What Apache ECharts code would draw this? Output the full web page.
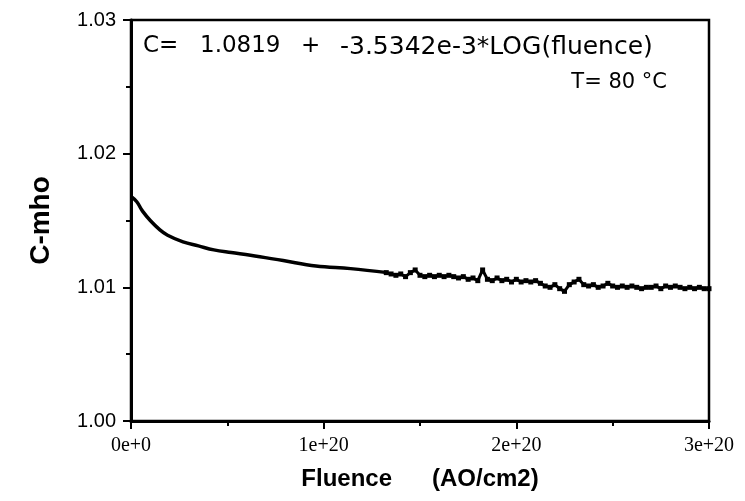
<!DOCTYPE html>
<html>
<head>
    <meta charset="utf-8">
    <title>C-mho vs Fluence</title>
    <script src="https://cdn.jsdelivr.net/npm/echarts@6/dist/echarts.min.js"></script>
</head>
<body style="margin:0;background:#fff;">
    <div id="main" style="width:745px;height:501px;"></div>
    <script>
        // fluence in units of 1e20 AO/cm2
        let fitX = [0.00, 0.03, 0.06, 0.10, 0.15, 0.19, 0.27, 0.35, 0.43, 0.52, 0.62, 0.79, 0.96, 1.14, 1.33];
        let fitY = [1.0168, 1.0164, 1.0157, 1.0150, 1.0143, 1.0139, 1.0134, 1.0131, 1.0128, 1.0126, 1.0124, 1.0120, 1.0116, 1.0114, 1.0111];

        // measured points (noisy tail)
        let dataX = [1.325, 1.350, 1.375, 1.400, 1.425, 1.450, 1.475, 1.500, 1.525, 1.550,
            1.575, 1.600, 1.625, 1.650, 1.675, 1.700, 1.725, 1.750, 1.775, 1.800,
            1.825, 1.850, 1.875, 1.900, 1.925, 1.950, 1.975, 2.000, 2.025, 2.050,
            2.075, 2.100, 2.125, 2.150, 2.175, 2.200, 2.225, 2.250, 2.275, 2.300,
            2.325, 2.350, 2.375, 2.400, 2.425, 2.450, 2.475, 2.500, 2.525, 2.550,
            2.575, 2.600, 2.625, 2.650, 2.675, 2.700, 2.725, 2.750, 2.775, 2.800,
            2.825, 2.850, 2.875, 2.900, 2.925, 2.950, 2.975, 3.000];
        let dataY = [1.0111, 1.0110, 1.0109, 1.0110, 1.0108, 1.0111, 1.0113, 1.0109, 1.0108, 1.0109,
            1.0108, 1.0109, 1.0108, 1.0109, 1.0108, 1.0107, 1.0108, 1.0106, 1.0107, 1.0105,
            1.0113, 1.0106, 1.0105, 1.0107, 1.0105, 1.0106, 1.0104, 1.0106, 1.0104, 1.0105,
            1.0104, 1.0105, 1.0103, 1.0101, 1.0100, 1.0102, 1.0099, 1.0097, 1.0102, 1.0104,
            1.0106, 1.0102, 1.0101, 1.0102, 1.0100, 1.0101, 1.0103, 1.0101, 1.0100, 1.0101,
            1.0100, 1.0101, 1.0100, 1.0099, 1.0100, 1.0100, 1.0101, 1.0099, 1.0101, 1.0100,
            1.0101, 1.0100, 1.0099, 1.0100, 1.0099, 1.0100, 1.0099, 1.0099];

        let xTicks = ['0e+0', '1e+20', '2e+20', '3e+20'];

        let myChart = echarts.init(document.getElementById('main'));

        let option = {
            animation: false,
            grid: {
                left: 131, right: 36, top: 20, bottom: 80,
                show: true, borderColor: '#000', borderWidth: 2.5
            },
            xAxis: {
                type: 'value',
                min: 0, max: 3, interval: 1,
                name: 'Fluence      (AO/cm2)',
                nameLocation: 'middle',
                nameGap: 46,
                nameTextStyle: { fontFamily: 'Liberation Sans', fontWeight: 'bold', fontSize: 24, color: '#000' },
                axisLine: { lineStyle: { color: '#000', width: 3 } },
                axisTick: { inside: false, length: 8, lineStyle: { color: '#000', width: 2 } },
                minorTick: { show: true, splitNumber: 2, length: 5, lineStyle: { color: '#000', width: 2 } },
                splitLine: { show: false },
                axisLabel: {
                    margin: 15,
                    fontFamily: 'Liberation Serif', fontSize: 20, color: '#000',
                    formatter: function (v) { return xTicks[Math.round(v)]; }
                }
            },
            yAxis: {
                type: 'value',
                min: 1.00, max: 1.03, interval: 0.01,
                name: 'C-mho',
                nameLocation: 'middle',
                nameGap: 76,
                nameTextStyle: { fontFamily: 'Liberation Sans', fontWeight: 'bold', fontSize: 28, color: '#000' },
                axisLine: { show: true, lineStyle: { color: '#000', width: 3 } },
                axisTick: { show: true, inside: false, length: 8, lineStyle: { color: '#000', width: 2 } },
                minorTick: { show: true, splitNumber: 2, length: 5, lineStyle: { color: '#000', width: 2 } },
                splitLine: { show: false },
                axisLabel: {
                    margin: 15,
                    fontFamily: 'Liberation Sans', fontSize: 20, color: '#000',
                    formatter: function (v) { return v.toFixed(2); }
                }
            },
            graphic: [
                { type: 'text', left: 143, top: 35, style: { text: 'C=', font: '23px "DejaVu Sans"', fill: '#000' } },
                { type: 'text', left: 200, top: 35, style: { text: '1.0819', font: '23px "DejaVu Sans"', fill: '#000' } },
                { type: 'text', left: 301, top: 35, style: { text: '+', font: '23px "DejaVu Sans"', fill: '#000' } },
                { type: 'text', left: 340, top: 35, style: { text: '-3.5342e-3*LOG(fluence)', font: '25px "DejaVu Sans"', fill: '#000' } },
                { type: 'text', right: 78, top: 72, style: { text: 'T= 80 °C', font: '21px "DejaVu Sans"', fill: '#000' } }
            ],
            series: [
                {
                    name: 'fit',
                    type: 'line',
                    smooth: 0.4,
                    showSymbol: false,
                    lineStyle: { color: '#000', width: 3.5 },
                    data: fitX.map(function (x, i) { return [x, fitY[i]]; })
                },
                {
                    name: 'data',
                    type: 'line',
                    symbol: 'rect',
                    symbolSize: 5,
                    itemStyle: { color: '#000' },
                    lineStyle: { color: '#000', width: 3 },
                    data: dataX.map(function (x, i) { return [x, dataY[i]]; })
                }
            ]
        };

        myChart.setOption(option);
    </script>
</body>
</html>
